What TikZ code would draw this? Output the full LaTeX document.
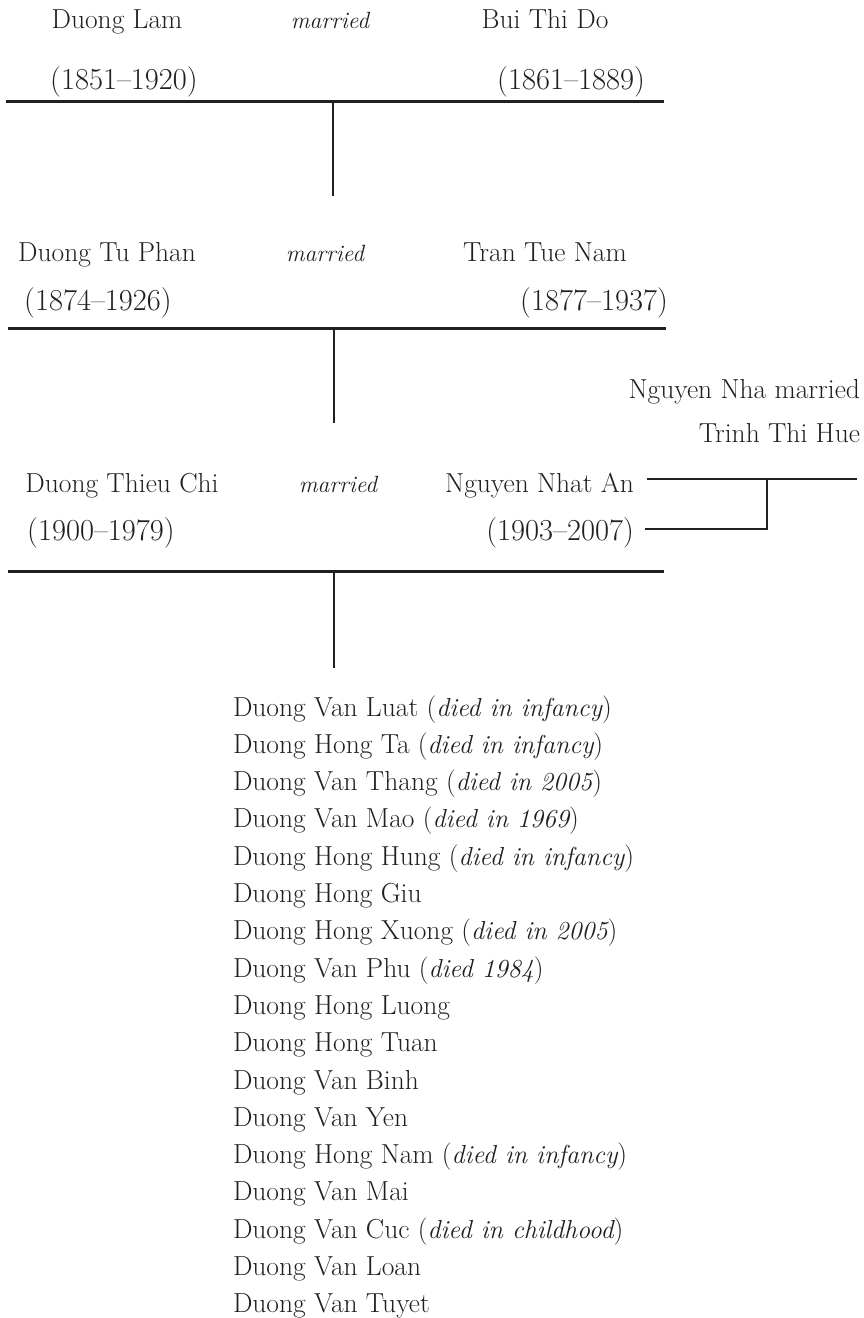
\documentclass[tikz,border=0pt]{standalone}
\usepackage{fontspec}
\newcommand\diednote[1]{({\fontsize{26}{30}\selectfont\itshape #1})}
\begin{document}
\begin{tikzpicture}[x=1pt,y=-1pt,
  every node/.style={inner sep=0pt,outer sep=0pt,text=ink,font=\fontsize{27.5}{37.3}\selectfont},
  person/.style={anchor=base},
  lft/.style={anchor=base west},
  rgt/.style={anchor=base east},
  dates/.style={anchor=base,font=\fontsize{30.5}{37.3}\selectfont},
  datesr/.style={anchor=base east,font=\fontsize{30.5}{37.3}\selectfont},
  marr/.style={anchor=base,font=\fontsize{23.5}{37.3}\selectfont\itshape},
  famline/.style={draw=ink,line width=3pt},
  descline/.style={draw=ink,line width=2pt},
  brline/.style={draw=ink,line width=2.6pt}]
\definecolor{ink}{HTML}{231F20}
\useasboundingbox (0,0) rectangle (863,1318);
% generation 1
\node[person] (dlam) at (117,28) {Duong Lam};
\node[marr] (m1) at (330,28) {married};
\node[person] (bui) at (545,28) {Bui Thi Do};
\node[dates] (dlamd) at (124,89) {(1851--1920)};
\node[dates] (buid) at (571,89) {(1861--1889)};
\coordinate (l1a) at (6,101);
\coordinate (l1b) at (664,101);
\coordinate (l1m) at (333,101);
\coordinate (l1e) at (333,196);
\draw[famline] (l1a) -- (l1b);
\draw[descline] (l1m) -- (l1e);
% generation 2
\node[person] (dtp) at (107,261) {Duong Tu Phan};
\node[marr] (m2) at (325,261) {married};
\node[person] (ttn) at (545,261) {Tran Tue Nam};
\node[dates] (dtpd) at (98,310) {(1874--1926)};
\node[dates] (ttnd) at (594,310) {(1877--1937)};
\coordinate (l2a) at (8,328);
\coordinate (l2b) at (666,328);
\coordinate (l2m) at (334,328);
\coordinate (l2e) at (334,423);
\draw[famline] (l2a) -- (l2b);
\draw[descline] (l2m) -- (l2e);
% Nguyen Nha side
\node[rgt] (nnha) at (860,398) {Nguyen Nha married};
\node[rgt] (thue) at (860,442) {Trinh Thi Hue};
% generation 3
\node[person] (dtc) at (122,492) {Duong Thieu Chi};
\node[marr] (m3) at (338,492) {married};
\node[rgt] (nna) at (634,492) {Nguyen Nhat An};
\node[dates] (dtcd) at (101,540) {(1900--1979)};
\node[datesr] (nnad) at (634,540) {(1903--2007)};
\coordinate (b1a) at (647,479);
\coordinate (b1b) at (857,479);
\coordinate (b2a) at (645,529);
\coordinate (bv) at (767,529);
\coordinate (bt) at (767,479);
\draw[brline] (b1a) -- (b1b);
\draw[brline] (b2a) -- (bv) -- (bt);
\coordinate (l3a) at (8,571);
\coordinate (l3b) at (664,571);
\coordinate (l3m) at (334,571);
\coordinate (l3e) at (334,668);
\draw[famline] (l3a) -- (l3b);
\draw[descline] (l3m) -- (l3e);
% children
\foreach \n/\t [count=\i from 0] in {
  c1/{Duong Van Luat \diednote{died in infancy}},
  c2/{Duong Hong Ta \diednote{died in infancy}},
  c3/{Duong Van Thang \diednote{died in 2005}},
  c4/{Duong Van Mao \diednote{died in 1969}},
  c5/{Duong Hong Hung \diednote{died in infancy}},
  c6/{Duong Hong Giu},
  c7/{Duong Hong Xuong \diednote{died in 2005}},
  c8/{Duong Van Phu \diednote{died 1984}},
  c9/{Duong Hong Luong},
  c10/{Duong Hong Tuan},
  c11/{Duong Van Binh},
  c12/{Duong Van Yen},
  c13/{Duong Hong Nam \diednote{died in infancy}},
  c14/{Duong Van Mai},
  c15/{Duong Van Cuc \diednote{died in childhood}},
  c16/{Duong Van Loan},
  c17/{Duong Van Tuyet}}
  \node[lft] (\n) at (233,716+37.3*\i) {\t};
\end{tikzpicture}
\end{document}
